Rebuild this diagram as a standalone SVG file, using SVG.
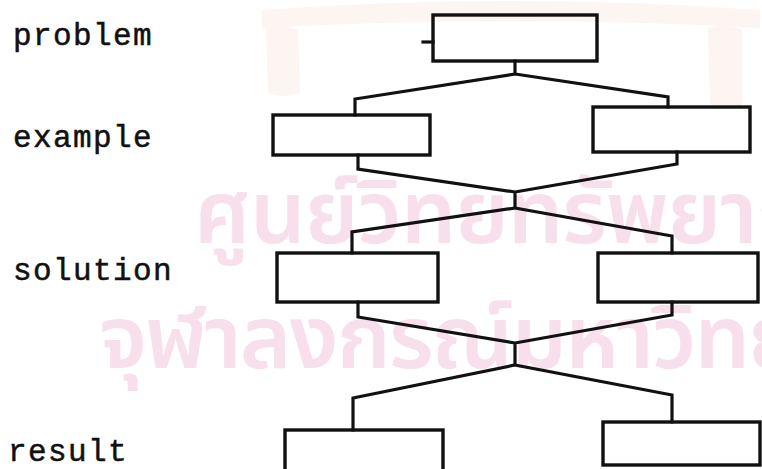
<svg xmlns="http://www.w3.org/2000/svg" width="762" height="469" viewBox="0 0 762 469">
  <style>
    .lbl { font-family: "Liberation Mono", "Courier New", monospace; font-size: 31px; letter-spacing: 1.4px; fill: #111; stroke: #111; stroke-width: 0.5px; }
    .box { fill: none; stroke: #111; stroke-width: 3.4; stroke-linejoin: miter; }
    .con { fill: none; stroke: #111; stroke-width: 3.2; stroke-linejoin: miter; stroke-linecap: square; }
    .wm { font-family: "Noto Sans Thai", "Noto Sans", "DejaVu Sans", sans-serif; font-size: 88px; font-weight: 600; fill: #f7e0eb; }
    .emb { fill: #fdf5f2; }
  </style>
  <rect width="762" height="469" fill="#ffffff"/>

  <g id="watermark">
    <path class="emb" d="M262 10 Q510 -8 760 10 L760 28 Q510 14 262 28 Z"/>
    <path class="emb" d="M266 28 Q282 24 298 30 L300 92 Q282 100 268 92 Z"/>
    <path class="emb" d="M708 28 Q724 22 742 30 L742 106 Q724 112 710 104 Z"/>
    <text class="wm" x="193" y="243" textLength="660" lengthAdjust="spacing">ศูนย์วิทยทรัพยากร</text>
    <text class="wm" x="97" y="368" textLength="840" lengthAdjust="spacing">จุฬาลงกรณ์มหาวิทยาลัย</text>
  </g>

  <g id="labels">
    <g id="label-problem"><text class="lbl" x="13" y="45">problem</text></g>
    <g id="label-example"><text class="lbl" x="13" y="147">example</text></g>
    <g id="label-solution"><text class="lbl" x="13" y="280">solution</text></g>
    <g id="label-result"><text class="lbl" x="8" y="461">result</text></g>
  </g>

  <g id="connectors">
    <path class="con" d="M515 61 V74 M515 74 L355 99 V115 M515 74 L668 97 V107"/>
    <path class="con" d="M358 155 V169 L515 192 M677 152 V164 L515 192 M515 192 V208 M515 208 L352 232 V253 M515 208 L672 236 V253"/>
    <path class="con" d="M358 302 V317 L515 343 M672 302 V315 L515 343 M515 343 V365 M515 365 L353 398 V430 M515 365 L672 395 V422"/>
  </g>

  <g id="node-problem">
    <rect class="box" x="433" y="15" width="164" height="46"/>
    <line class="con" x1="423" y1="42" x2="433" y2="42" stroke-width="2"/>
  </g>
  <g id="node-example-left"><rect class="box" x="273" y="115" width="157" height="40"/></g>
  <g id="node-example-right"><rect class="box" x="593" y="107" width="157" height="45"/></g>
  <g id="node-solution-left"><rect class="box" x="277" y="253" width="161" height="49"/></g>
  <g id="node-solution-right"><rect class="box" x="598" y="253" width="160" height="49"/></g>
  <g id="node-result-left"><rect class="box" x="285" y="430" width="158" height="45"/></g>
  <g id="node-result-right"><rect class="box" x="603" y="422" width="157" height="43"/></g>
</svg>
